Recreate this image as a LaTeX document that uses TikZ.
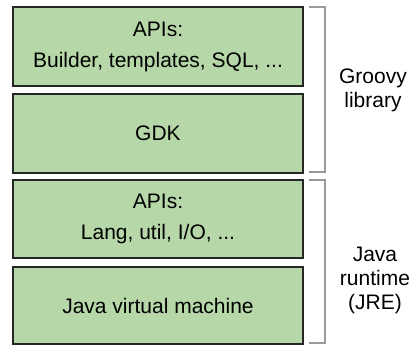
\documentclass[tikz,border=0pt]{standalone}
\usepackage{fontspec}
\setmainfont{Liberation Sans}
\definecolor{boxfill}{HTML}{B6D7A8}
\definecolor{boxline}{HTML}{262626}
\definecolor{brack}{HTML}{9A9A9A}
\begin{document}
\begin{tikzpicture}[x=1bp,y=-1bp,
  layer/.style={draw=boxline, fill=boxfill, line width=1.3bp, minimum width=290bp,
    inner sep=0pt, align=center, font=\fontsize{21bp}{31bp}\selectfont},
  brace/.style={draw=brack, line width=1.2bp},
  sidelabel/.style={align=center, inner sep=0pt, font=\fontsize{21bp}{24bp}\selectfont}]
\useasboundingbox (0,0) rectangle (415,345);
\node[layer, minimum height=79bp] (gapi) at (158,46.5) {APIs:\\Builder, templates, SQL, ...};
\node[layer, minimum height=79bp] (gdk) at (158,133.5) {GDK};
\node[layer, minimum height=78bp] (japi) at (158,219) {APIs:\\Lang, util, I/O, ...};
\node[layer, minimum height=77bp] (jvm) at (158,305.5) {Java virtual machine};
\coordinate (g1) at (309,7);
\coordinate (g2) at (325,7);
\coordinate (g3) at (325,172);
\coordinate (g4) at (309,172);
\coordinate (j1) at (309,180);
\coordinate (j2) at (325,180);
\coordinate (j3) at (325,343);
\coordinate (j4) at (309,343);
\draw[brace] (g1) -- (g2) -- (g3) -- (g4);
\draw[brace] (j1) -- (j2) -- (j3) -- (j4);
\node[sidelabel] (groovy) at (373,90) {Groovy\\library};
\node[sidelabel] (java) at (375,280) {Java\\runtime\\(JRE)};
\end{tikzpicture}
\end{document}
